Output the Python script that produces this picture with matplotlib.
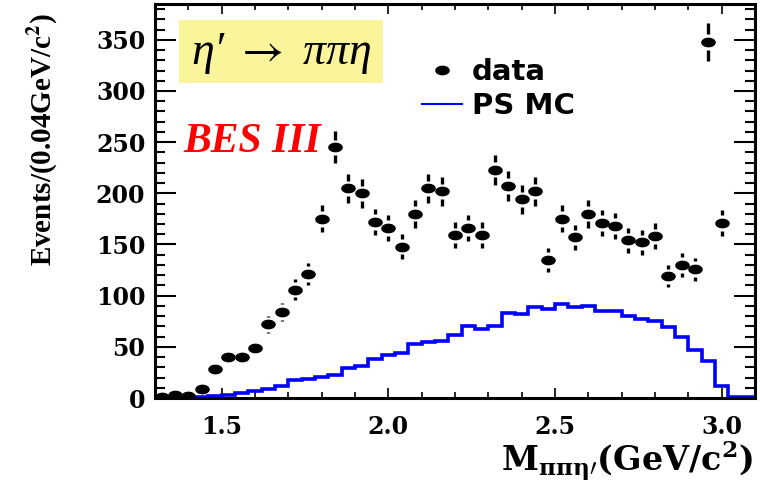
import numpy as np
import matplotlib
matplotlib.use("Agg")
import matplotlib.pyplot as plt
from matplotlib.path import Path
from matplotlib.markers import MarkerStyle
from matplotlib.lines import Line2D
from matplotlib.patches import Rectangle
from matplotlib.ticker import MultipleLocator, FormatStrFormatter

# ---- data: M(pi pi eta') spectrum, 0.04 GeV/c^2 bins ----
bin_edges = [1.30, 1.34, 1.38, 1.42, 1.46, 1.50, 1.54, 1.58, 1.62, 1.66,
             1.70, 1.74, 1.78, 1.82, 1.86, 1.90, 1.94, 1.98, 2.02, 2.06,
             2.10, 2.14, 2.18, 2.22, 2.26, 2.30, 2.34, 2.38, 2.42, 2.46,
             2.50, 2.54, 2.58, 2.62, 2.66, 2.70, 2.74, 2.78, 2.82, 2.86,
             2.90, 2.94, 2.98, 3.02, 3.06, 3.10]

data_mass = [1.32, 1.36, 1.40, 1.44, 1.48, 1.52, 1.56, 1.60, 1.64, 1.68,
             1.72, 1.76, 1.80, 1.84, 1.88, 1.92, 1.96, 2.00, 2.04, 2.08,
             2.12, 2.16, 2.20, 2.24, 2.28, 2.32, 2.36, 2.40, 2.44, 2.48,
             2.52, 2.56, 2.60, 2.64, 2.68, 2.72, 2.76, 2.80, 2.84, 2.88,
             2.92, 2.96, 3.00]
data_counts = [1, 3, 2, 9, 28, 40, 40, 49, 72, 84,
               106, 121, 175, 245, 205, 200, 172, 166, 148, 180,
               205, 202, 159, 166, 159, 223, 207, 194, 202, 135,
               175, 157, 180, 171, 168, 154, 152, 158, 119, 130,
               126, 348, 171]

ps_mc = [0.5, 0.5, 0.5, 1, 1.5, 3, 5, 6.5, 9, 12,
         17.5, 19, 21, 22, 29.5, 31.5, 38, 42, 44, 53,
         55, 56, 61.5, 70, 67.5, 70, 83.5, 82, 88.5, 87,
         92, 88.5, 90, 85.5, 85.5, 80, 77.5, 75.5, 69, 59.5,
         47, 36.5, 12, 1, 1]

x_ticks_major = 0.5
y_ticks_major = 50

# ---- figure ----
W, H = 760, 483
fig = plt.figure(figsize=(W / 100, H / 100), dpi=100)
ax = fig.add_axes([155 / W, 1 - 398 / H, 600 / W, 394 / H])
ax.set_xlim(1.30, 3.10)
ax.set_ylim(0, 385)

# phase-space MC histogram
ax.stairs(ps_mc, bin_edges, color="#0000ff", lw=2.6, baseline=None, zorder=2)

# data points with sqrt(N) errors, bars leave a small gap around the marker
x = np.array(data_mass)
y = np.array(data_counts, dtype=float)
err = np.sqrt(y)
gap = 7.5
m = err > gap
ax.vlines(x[m], y[m] + gap, y[m] + err[m], color="black", lw=2.4, zorder=3)
ax.vlines(x[m], y[m] - err[m], y[m] - gap, color="black", lw=2.4, zorder=3)

t = np.linspace(0, 2 * np.pi, 64)
ellipse = MarkerStyle(Path(np.column_stack([1.5 * np.cos(t), np.sin(t)]), closed=True))
ax.plot(x, y, ls="none", marker=ellipse, ms=10.5, color="black", mew=0, zorder=4)

# axes styling
for s in ax.spines.values():
    s.set_linewidth(2.2)
ax.xaxis.set_major_locator(MultipleLocator(x_ticks_major))
ax.xaxis.set_minor_locator(MultipleLocator(0.1))
ax.yaxis.set_major_locator(MultipleLocator(y_ticks_major))
ax.yaxis.set_minor_locator(MultipleLocator(10))
ax.xaxis.set_major_formatter(FormatStrFormatter("%.1f"))
ax.yaxis.set_major_formatter(FormatStrFormatter("%d"))
ax.tick_params(axis="y", which="major", direction="in", length=15, width=1.5,
               left=True, right=True, pad=7)
ax.tick_params(axis="y", which="minor", direction="in", length=7.5, width=1.5,
               left=True, right=True)
ax.tick_params(axis="x", which="major", direction="in", length=7.5, width=1.2,
               top=True, bottom=True, pad=12)
ax.tick_params(axis="x", which="minor", direction="in", length=4.5, width=1.2,
               top=True, bottom=True)
for lab in ax.get_xticklabels() + ax.get_yticklabels():
    lab.set_fontfamily("DejaVu Serif")
    lab.set_fontweight("bold")
    lab.set_fontsize(17)

# decay label in a yellow box
ax.add_patch(Rectangle((0.04, 0.7995), 0.34, 0.1595, transform=ax.transAxes,
                       fc="#faf59b", ec="none", zorder=1))
ax.text(0.211, 0.874, "\u03b7\u2032 $\\rightarrow$ \u03c0\u03c0\u03b7", transform=ax.transAxes,
        ha="center", va="center", fontsize=33, fontstyle="italic",
        fontfamily=["Liberation Serif", "DejaVu Serif"], math_fontfamily="stix",
        zorder=5)

ax.text(0.0467, 0.624, "BES III", transform=ax.transAxes, color="#ff0000",
        fontfamily="Liberation Serif", fontweight="bold", fontstyle="italic",
        fontsize=30, ha="left", va="baseline", zorder=5)

# legend
handles = [Line2D([], [], ls="none", marker=ellipse, ms=10.5, color="black", mew=0),
           Line2D([], [], color="#0000ff", lw=1.5)]
ax.legend(handles, ["data", "PS MC"], loc="upper left",
          bbox_to_anchor=(0.4445, 0.863), frameon=False, borderpad=0,
          borderaxespad=0, handlelength=1.37, handletextpad=0.34,
          labelspacing=0.2,
          prop=dict(family="DejaVu Sans", weight="bold", size=21))

# axis titles
fig.text(43 / W, 1 - 13 / H, r"Events/(0.04GeV/c$^{\mathbf{2}}$)", rotation=90,
         ha="center", va="top", fontfamily="Liberation Serif", fontweight="bold",
         fontsize=21, math_fontfamily="stix")
fig.text(753 / W, 1 - 471 / H, r"M$_{\mathbf{\pi\pi\eta\prime}}$(GeV/c$^{\mathbf{2}}$)",
         ha="right", va="baseline", fontfamily="DejaVu Serif", fontweight="bold",
         fontsize=24, math_fontfamily="dejavuserif")

fig.savefig("out.png", dpi=100, facecolor="white")
